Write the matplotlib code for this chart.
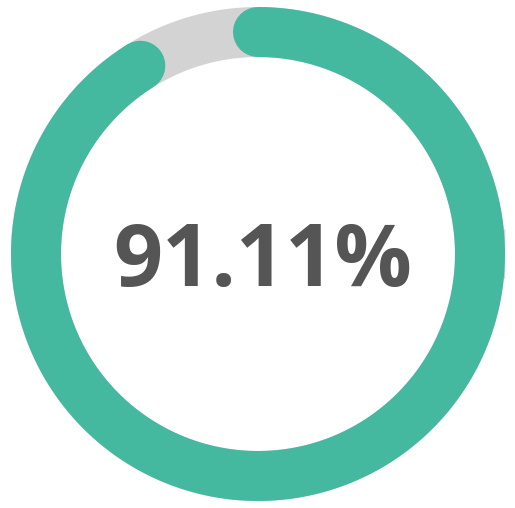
import numpy as np
import matplotlib
matplotlib.use("Agg")
import matplotlib.pyplot as plt

# gauge data
value = 91.11
total = 100.0
label = "91.11%"

teal = "#45b8a0"
track = "#d3d3d3"
text_color = "#555555"

W, H, DPI = 515, 508, 100
fig = plt.figure(figsize=(W / DPI, H / DPI), dpi=DPI)
ax = fig.add_axes([0, 0, 1, 1])
ax.set_xlim(0, W)
ax.set_ylim(H, 0)
ax.set_aspect("equal")
ax.axis("off")

cx, cy, r = 258, 254, 222
ring_w = 50 * 72 / DPI  # px -> pt

# background track
t = np.linspace(0, 2 * np.pi, 400)
ax.plot(cx + r * np.cos(t), cy + r * np.sin(t), color=track, lw=ring_w)

# progress arc, clockwise from the top
frac = value / total
ang = np.linspace(0, 2 * np.pi * frac, 400)
ax.plot(cx + r * np.sin(ang), cy - r * np.cos(ang), color=teal, lw=ring_w,
        solid_capstyle="round")

ax.text(263, 286, label, ha="center", va="baseline", color=text_color,
        fontsize=62, fontweight="bold", family="Open Sans")

fig.savefig("out.png", dpi=DPI)
